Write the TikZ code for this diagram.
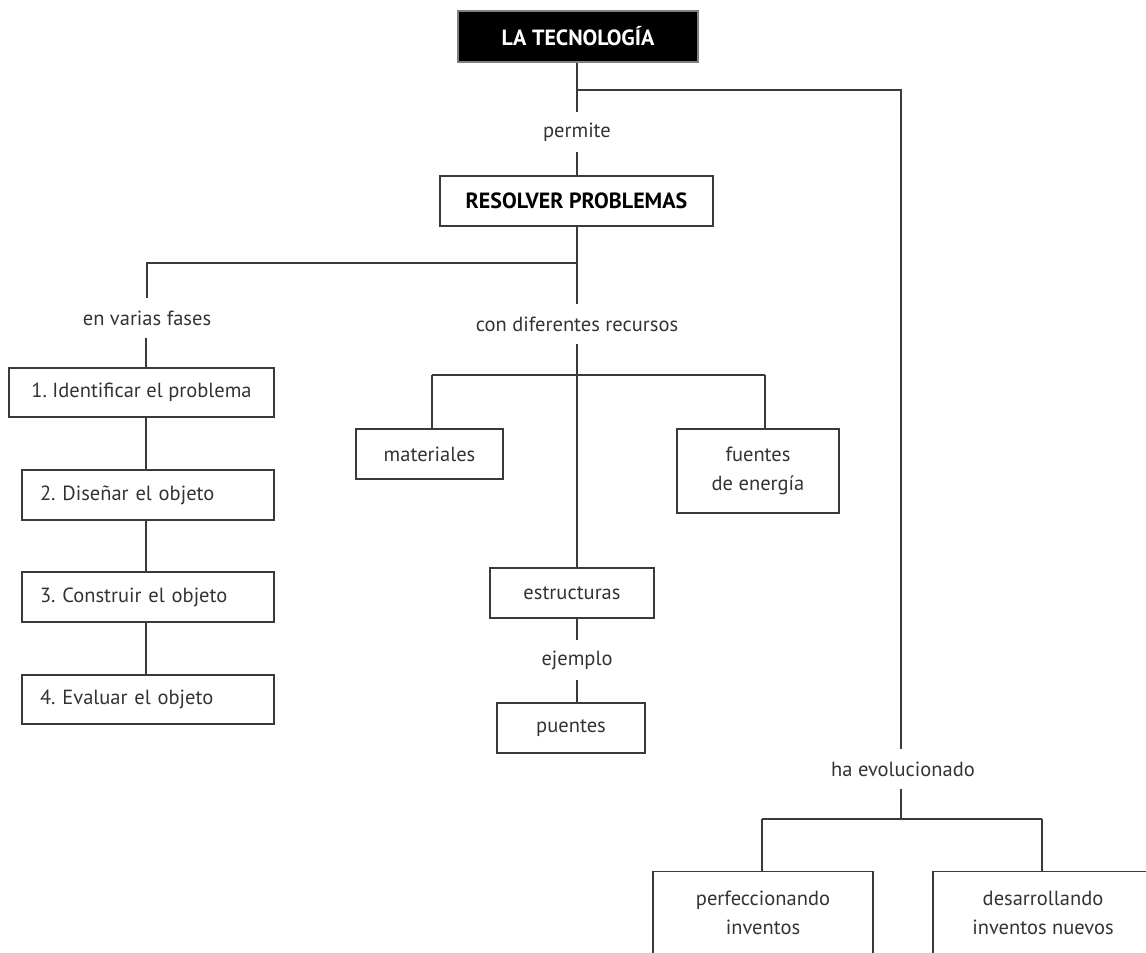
\documentclass[tikz,border=0pt]{standalone}
\usepackage{fontspec}
\setmainfont{PT Sans}
\definecolor{ink}{HTML}{333333}
\definecolor{lin}{HTML}{3A3A3A}
\begin{document}
\begin{tikzpicture}[x=1pt,y=-1pt,
  every node/.style={font=\fontsize{20.5}{28.5}\selectfont, text=ink},
  box/.style={draw=lin, line width=1.1pt, inner sep=0pt, align=center},
  lbl/.style={inner sep=0pt, minimum height=40pt},
  conn/.style={draw=lin, line width=1.1pt},
  ]
\clip (0,0) rectangle (1146,953);
\useasboundingbox (0,0) rectangle (1146,953);
% nodes
\node[box, fill=black, draw=gray, text=white, minimum width=240pt, minimum height=51pt,
      font=\fontsize{22}{26}\selectfont\bfseries] (tec) at (578,36.5) {LA TECNOLOGÍA};
\node[lbl] (perm) at (577,132) {permite};
\node[box, minimum width=273pt, minimum height=50pt,
      font=\fontsize{22}{26}\selectfont\bfseries, text=black] (res) at (576.5,201) {RESOLVER PROBLEMAS};
\node[lbl] (fases) at (147,318) {en varias fases};
\node[lbl] (con) at (577,324) {con diferentes recursos};
\node[box, minimum width=265pt, minimum height=49pt] (b1) at (141.5,392.5) {1.\ Identificar el problema};
\node[box, minimum width=252pt, minimum height=50pt, text width=216pt, align=left] (b2) at (148,495) {2.\ Diseñar el objeto};
\node[box, minimum width=252pt, minimum height=50pt, text width=216pt, align=left] (b3) at (148,597) {3.\ Construir el objeto};
\node[box, minimum width=252pt, minimum height=49pt, text width=216pt, align=left] (b4) at (148,699.5) {4.\ Evaluar el objeto};
\node[box, minimum width=147pt, minimum height=50pt] (mat) at (429.5,454) {materiales};
\node[box, minimum width=162pt, minimum height=84pt] (fue) at (758,471) {fuentes\\de energía};
\node[box, minimum width=164pt, minimum height=50pt] (est) at (572,593) {estructuras};
\node[lbl] (ej) at (577,660) {ejemplo};
\node[box, minimum width=148pt, minimum height=50pt] (pue) at (571,728) {puentes};
\node[lbl] (evol) at (903,769) {ha evolucionado};
\node[box, minimum width=220pt, minimum height=120pt, anchor=north] (perf) at (763,871) {};
\node[align=center, inner sep=0pt] (perft) at (763,913) {perfeccionando\\inventos};
\node[box, minimum width=220pt, minimum height=120pt, anchor=north] (desa) at (1043,871) {};
\node[align=center, inner sep=0pt] (desat) at (1043,913) {desarrollando\\inventos nuevos};
% junctions
\coordinate (j1) at (577,90);
\coordinate (jR) at (901,90);
\coordinate (j2) at (577,263);
\coordinate (jL) at (147,263);
\coordinate (j3) at (577,375);
\coordinate (j3L) at (432,375);
\coordinate (j3R) at (765,375);
\coordinate (j4) at (901,819);
\coordinate (j4L) at (762,819);
\coordinate (j4R) at (1042,819);
% connectors
\draw[conn] (tec.south -| j1) -- (j1) -- (j1 |- perm.north);
\draw[conn] (j1) -- (jR) -- (jR |- evol.north);
\draw[conn] (perm.south -| j1) -- (j1 |- res.north);
\draw[conn] (res.south -| j2) -- (j2) -- (j2 |- con.north);
\draw[conn] (j2) -- (jL) -- (jL |- fases.north);
\draw[conn] (fases.south -| 146,0) -- (b1.north -| 146,0);
\draw[conn] (b1.south -| 146,0) -- (b2.north -| 146,0);
\draw[conn] (b2.south -| 146,0) -- (b3.north -| 146,0);
\draw[conn] (b3.south -| 146,0) -- (b4.north -| 146,0);
\draw[conn] (con.south -| j3) -- (j3) -- (j3 |- est.north);
\draw[conn] (j3L) -- (j3R);
\draw[conn] (j3L) -- (j3L |- mat.north);
\draw[conn] (j3R) -- (j3R |- fue.north);
\draw[conn] (est.south -| j3) -- (j3 |- ej.north);
\draw[conn] (ej.south -| j3) -- (j3 |- pue.north);
\draw[conn] (evol.south -| j4) -- (j4);
\draw[conn] (j4L) -- (j4R);
\draw[conn] (j4L) -- (j4L |- perf.north);
\draw[conn] (j4R) -- (j4R |- desa.north);
\end{tikzpicture}
\end{document}
